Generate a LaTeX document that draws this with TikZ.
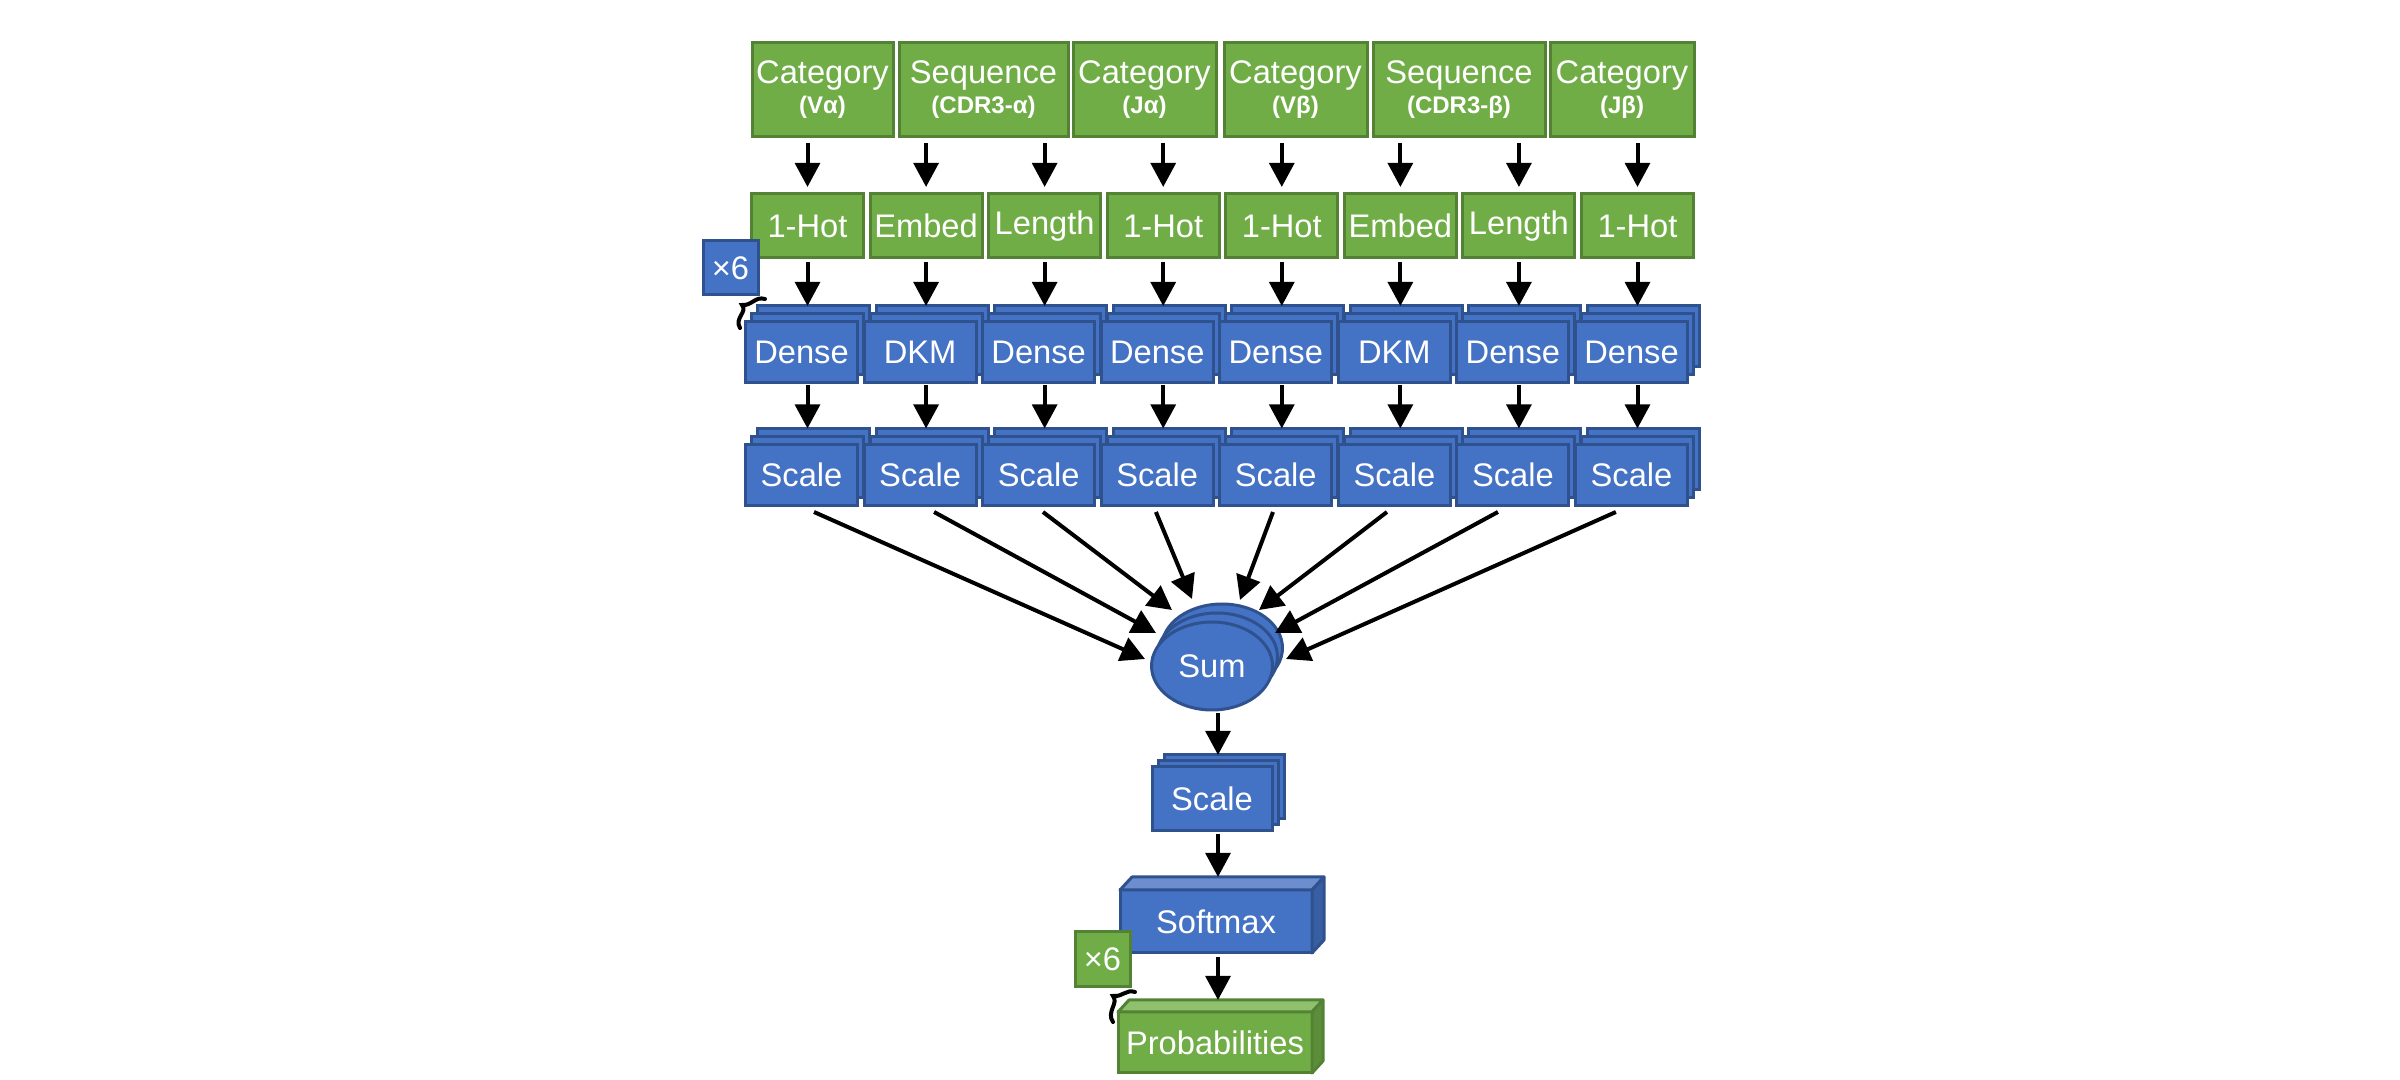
\documentclass[tikz,border=0pt]{standalone}
\usepackage{fontspec}
\setmainfont{Liberation Sans}
\usetikzlibrary{arrows.meta,calc,shapes.geometric}

\definecolor{grnfill}{RGB}{112,173,71}
\definecolor{grnline}{RGB}{84,130,53}
\definecolor{grntop}{RGB}{143,192,110}
\definecolor{grnside}{RGB}{92,142,58}
\definecolor{blufill}{RGB}{68,114,196}
\definecolor{bluline}{RGB}{47,82,143}
\definecolor{blutop}{RGB}{108,142,206}
\definecolor{bluside}{RGB}{56,94,163}

\tikzset{every picture/.style={line width=0.75pt}}
\tikzset{
  gbox/.style={draw=grnline, fill=grnfill, line width=0.9pt, text=white, inner sep=0pt, outer sep=0pt, align=center, font=\fontsize{9.8}{10.5}\selectfont},
  bbox/.style={draw=bluline, fill=blufill, line width=0.9pt, text=white, inner sep=0pt, outer sep=0pt, font=\fontsize{9.8}{10.5}\selectfont},
  cell/.style={minimum width=33.6pt, minimum height=18.3pt},
  blob/.style={bbox, ellipse, minimum width=36.3pt, minimum height=26.4pt},
  arr/.style={-{Triangle[length=7.2pt,width=7.4pt]}, line width=1.2pt},
  brc/.style={line width=1.2pt, line cap=round},
}
\newcommand{\subt}[1]{{\fontsize{7.2}{8}\selectfont\bfseries #1}}

\begin{document}
\begin{tikzpicture}[x=0.3pt,y=0.3pt,yscale=-1,xscale=1]
\useasboundingbox (0,0) rectangle (2400,1080);

% Input Nodes
\node[gbox, minimum width=42.3pt, minimum height=28.2pt] (cva) at (822.5,90) {Category\\[-1.5pt]\subt{(Vα)}};
\node[gbox, minimum width=50.7pt, minimum height=28.2pt] (sqa) at (983.5,90) {Sequence\\[-1.5pt]\subt{(CDR3-α)}};
\node[gbox, minimum width=42.9pt, minimum height=28.2pt] (cja) at (1144.5,90) {Category\\[-1.5pt]\subt{(Jα)}};
\node[gbox, minimum width=42.9pt, minimum height=28.2pt] (cvb) at (1295.5,90) {Category\\[-1.5pt]\subt{(Vβ)}};
\node[gbox, minimum width=51.6pt, minimum height=28.2pt] (sqb) at (1459,90) {Sequence\\[-1.5pt]\subt{(CDR3-β)}};
\node[gbox, minimum width=43.2pt, minimum height=28.2pt] (cjb) at (1622,90) {Category\\[-1.5pt]\subt{(Jβ)}};

% Encoding Nodes
\foreach \i/\t in {0/1-Hot,1/Embed,2/Length,3/1-Hot,4/1-Hot,5/Embed,6/Length,7/1-Hot}
  \node[gbox, minimum width=33.6pt, minimum height=19.2pt] (enc\i) at ({807.5+118.57*\i},226) {\t};

% Stacked Dense Layers
\foreach \i/\t in {0/Dense,1/DKM,2/Dense,3/Dense,4/Dense,5/DKM,6/Dense,7/Dense} {
  \node[bbox, cell] (dnb\i) at ({813.5+118.57*\i},336.5) {};
  \node[bbox, cell] at ({807.5+118.57*\i},344.5) {};
  \node[bbox, cell] (dn\i) at ({801.5+118.57*\i},352.5) {\t};
}

% Stacked Scale Layers
\foreach \i in {0,...,7} {
  \node[bbox, cell] (scb\i) at ({813.5+118.57*\i},459) {};
  \node[bbox, cell] at ({807.5+118.57*\i},467) {};
  \node[bbox, cell] (sc\i) at ({801.5+118.57*\i},475) {Scale};
}

% Repeat Marker
\node[bbox, minimum width=16.5pt, minimum height=16.2pt] (rep1) at (730.5,268) {×6};
\draw[brc] (765,299) .. controls (755,296) and (752,306) .. (742,305) .. controls (748,312) and (734,318) .. (740,328);

% Straight Lines
\foreach \i/\p in {0/cva,1/sqa,2/sqa,3/cja,4/cvb,5/sqb,6/sqb,7/cjb}
  \draw[arr, shorten <=1.8pt, shorten >=2.1pt] (enc\i |- \p.south) -- (enc\i.north);
\foreach \i in {0,...,7} {
  \draw[arr, shorten <=1.2pt] (enc\i.south) -- (enc\i.south |- dnb\i.north);
  \draw[arr, shorten <=0.6pt] (dn\i.south -| enc\i) -- (enc\i |- scb\i.north);
}

% Sum
\node[blob] at (1222,648) {};
\node[blob] at (1217,657) {};
\node[blob] (sum) at (1212,666) {Sum};
\foreach \i/\dx/\tx/\ty in {0/12.5/-67/-7,1/14/-56/-33,2/4.3/-40/-56,3/-1.3/-20/-67,4/-2.8/28/-66,5/-7.4/47/-56,6/-15/63/-33,7/-15.6/74/-7}
  \draw[arr] ($(sc\i.south)+(\dx,6.5)$) -- ($(sum)+(\tx,\ty)$);

% Output Column
\coordinate (ax) at (1218,720);
\node[bbox, minimum width=36pt, minimum height=19.2pt] (totb) at (1224,787) {};
\node[bbox, minimum width=36pt, minimum height=19.2pt] at (1218,793) {};
\node[bbox, minimum width=36pt, minimum height=19.2pt] (tot) at (1212,799) {Scale};
\draw[arr, shorten <=1pt] (sum.south -| ax) -- (totb.north -| ax);

%Shape: Cube
\node[bbox, minimum width=57.6pt, minimum height=18.9pt] (soft) at (1216,921.5) {Softmax};
\draw[draw=bluline, fill=blutop, line width=0.9pt, line join=round] (soft.north west) -- ++(12,-13) -- ($(soft.north east)+(12,-13)$) -- (soft.north east) -- cycle;
\draw[draw=bluline, fill=bluside, line width=0.9pt, line join=round] (soft.north east) -- ++(12,-13) -- ($(soft.south east)+(12,-13)$) -- (soft.south east) -- cycle;
\draw[arr, shorten <=0.9pt] (tot.south -| ax) -- ($(soft.north -| ax)+(0,-13)$);

%Shape: Cube
\node[gbox, minimum width=58.2pt, minimum height=18.3pt] (prob) at (1215,1042.5) {Probabilities};
\draw[draw=grnline, fill=grntop, line width=0.9pt, line join=round] (prob.north west) -- ++(11,-12) -- ($(prob.north east)+(11,-12)$) -- (prob.north east) -- cycle;
\draw[draw=grnline, fill=grnside, line width=0.9pt, line join=round] (prob.north east) -- ++(11,-12) -- ($(prob.south east)+(11,-12)$) -- (prob.south east) -- cycle;
\draw[arr, shorten <=1.2pt] (soft.south -| ax) -- ($(prob.north -| ax)+(0,-12)$);

% Repeat Marker
\node[gbox, minimum width=16.5pt, minimum height=16.5pt] (rep2) at (1102.5,959.5) {×6};
\draw[brc] (1135,992) .. controls (1126,989) and (1123,997) .. (1113,996) .. controls (1119,1003) and (1106,1012) .. (1113,1022);
\end{tikzpicture}
\end{document}
